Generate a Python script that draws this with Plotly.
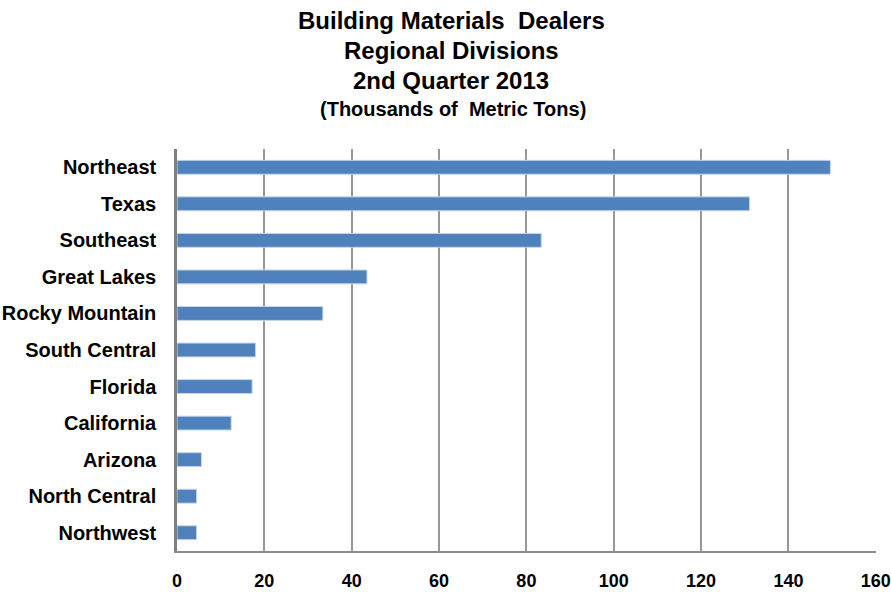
import plotly.graph_objects as go

# Regional divisions, listed top to bottom
regions = ["Northeast", "Texas", "Southeast", "Great Lakes", "Rocky Mountain",
           "South Central", "Florida", "California", "Arizona", "North Central",
           "Northwest"]
# Thousands of metric tons
tons = [149.6, 131.1, 83.4, 43.5, 33.4, 18.0, 17.2, 12.4, 5.6, 4.5, 4.5]

x_ticks = [0, 20, 40, 60, 80, 100, 120, 140, 160]

title_lines = ["Building Materials  Dealers", "Regional Divisions", "2nd Quarter 2013"]
subtitle = "(Thousands of  Metric Tons)"

FONT = "Arial, Liberation Sans, sans-serif"

L, R, T, B = 177, 15, 149, 41
W, H = 891, 592

fig = go.Figure(
    go.Bar(
        x=tons,
        y=regions,
        orientation="h",
        marker=dict(color="#4F81BD", line=dict(color="#C6D5EA", width=1)),
        width=0.38,
    )
)

fig.update_layout(
    width=W,
    height=H,
    margin=dict(l=L, r=R, t=T, b=B, autoexpand=False),
    paper_bgcolor="white",
    plot_bgcolor="white",
    showlegend=False,
)

fig.update_xaxes(
    range=[0, 160.05],
    tickvals=x_ticks,
    ticktext=[str(v) for v in x_ticks],
    showgrid=True,
    gridcolor="#979797",
    gridwidth=1.5,
    zeroline=False,
    showline=True,
    linecolor="#8C8C8C",
    linewidth=2,
    ticks="",
    automargin=False,
    ticklabelstandoff=12,
    tickfont=dict(family=FONT, size=18, color="black", weight="bold"),
)

fig.update_yaxes(
    categoryorder="array",
    categoryarray=regions[::-1],
    showgrid=False,
    zeroline=False,
    showline=True,
    linecolor="#7F7F7F",
    linewidth=2.5,
    ticks="",
    automargin=False,
    ticklabelstandoff=14,
    tickfont=dict(family=FONT, size=20, color="black", weight="bold"),
)

# Title block, positioned in pixels from the top of the page
title_y = [21, 50, 80]
pw = W - L - R
ph = H - T - B
for text, yp in zip(title_lines, title_y):
    fig.add_annotation(
        text=text, x=(451 - L) / pw, y=(H - yp - B) / ph,
        xref="paper", yref="paper",
        showarrow=False, xanchor="center", yanchor="middle",
        font=dict(family=FONT, size=24, color="black", weight="bold"),
    )
fig.add_annotation(
    text=subtitle, x=(453 - L) / pw, y=(H - 109 - B) / ph,
    xref="paper", yref="paper",
    showarrow=False, xanchor="center", yanchor="middle",
    font=dict(family=FONT, size=20, color="black", weight="bold"),
)

fig.write_html("out.html")
